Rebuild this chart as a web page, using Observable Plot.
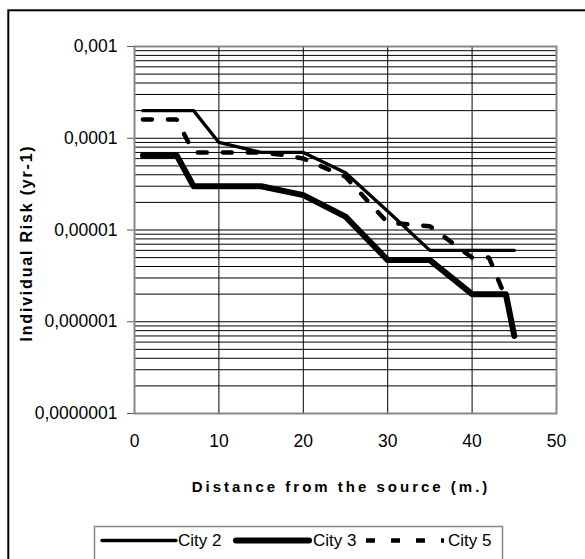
<!DOCTYPE html>
<html>
<head>
<meta charset="utf-8">
<script src="https://cdn.jsdelivr.net/npm/d3@7"></script>
<script src="https://cdn.jsdelivr.net/npm/@observablehq/plot@0.6"></script>
<style>
  html, body { margin: 0; padding: 0; background: #fff; }
  #chart { width: 585px; height: 559px; overflow: hidden; }
</style>
</head>
<body>
<div id="chart"></div>
<script>
// ---- data ----
const seriesNames = ["City 2", "City 3", "City 5"];

const city2Distance = [1, 7, 10, 15, 20, 25, 30, 35, 45];
const city2Risk     = [2e-4, 2e-4, 9e-5, 7e-5, 7e-5, 4.2e-5, 1.6e-5, 6e-6, 6e-6];

const city3Distance = [1, 5, 7, 15, 20, 25, 30, 35, 40, 44, 45];
const city3Risk     = [6.5e-5, 6.5e-5, 3e-5, 3e-5, 2.4e-5, 1.4e-5, 4.7e-6, 4.7e-6, 2e-6, 2e-6, 7e-7];

const city5Distance = [1, 5, 7, 15, 18, 20, 25, 30, 35, 40, 42, 44];
const city5Risk     = [1.6e-4, 1.6e-4, 7e-5, 7e-5, 6.5e-5, 6e-5, 3.8e-5, 1.2e-5, 1.1e-5, 5e-6, 5e-6, 1.8e-6];

const xTicks = [0, 10, 20, 30, 40, 50];
const yMajorTicks = [1e-3, 1e-4, 1e-5, 1e-6, 1e-7];
const yTickLabels = ["0,001", "0,0001", "0,00001", "0,000001", "0,0000001"];
const xTitle = "Distance from the source (m.)";
const yTitle = "Individual Risk (yr-1)";

// ---- build tables ----
function toRows(xs, ys, name) { return xs.map((x, i) => ({ x, y: ys[i], name })); }
const city2 = toRows(city2Distance, city2Risk, seriesNames[0]);
const city3 = toRows(city3Distance, city3Risk, seriesNames[1]);
const city5 = toRows(city5Distance, city5Risk, seriesNames[2]);

// minor + major log gridlines
const yGrid = [];
for (let e = -7; e <= -4; e++) for (let m = 1; m <= 9; m++) yGrid.push(+(m * Math.pow(10, e)).toPrecision(3));
yGrid.push(1e-3);
const xGrid = xTicks.slice(1, -1);

const labelFor = v => yTickLabels[yMajorTicks.findIndex(t => Math.abs(t - v) / t < 1e-6)];

const styles = [
  { width: 3.3, dash: null, cap: "round" },
  { width: 6, dash: null, cap: "round" },
  { width: 4.5, dash: "9,16", cap: "butt" }
];

const chart = Plot.plot({
  width: 585,
  height: 559,
  marginLeft: 134,
  marginRight: 29,
  marginTop: 46,
  marginBottom: 146,
  style: { fontFamily: "'Liberation Sans', Arial, sans-serif", fontSize: "17.5px", color: "#000", background: "#fff", overflow: "visible" },
  x: { domain: [0, 50] },
  y: { type: "log", domain: [1e-7, 1e-3] },
  marks: [
    Plot.ruleY(yGrid, { stroke: "#000", strokeWidth: 1 }),
    Plot.ruleX(xGrid, { stroke: "#000", strokeWidth: 1 }),
    Plot.axisY({ ticks: yMajorTicks, tickFormat: labelFor, tickSize: 7, tickPadding: 10, label: null, stroke: "#555", fill: "#000", fontSize: 17.5 }),
    Plot.axisX({ ticks: xTicks, tickSize: 0, tickPadding: 21, label: null, fill: "#000", fontSize: 17.5 }),
    Plot.line(city2, { x: "x", y: "y", stroke: "#000", strokeWidth: styles[0].width, strokeLinejoin: "round", strokeLinecap: "round" }),
    Plot.line(city3, { x: "x", y: "y", stroke: "#000", strokeWidth: styles[1].width, strokeLinejoin: "round", strokeLinecap: "round" }),
    Plot.line(city5, { x: "x", y: "y", stroke: "#000", strokeWidth: styles[2].width, strokeDasharray: styles[2].dash, strokeLinejoin: "miter" }),
    Plot.frame({ stroke: "#888", strokeWidth: 2 })
  ]
});

document.getElementById("chart").appendChild(chart);

// ---- titles, legend, outer border ----
const svg = d3.select(chart);

svg.append("text")
  .attr("x", 341).attr("y", 486)
  .attr("text-anchor", "middle").attr("dominant-baseline", "central")
  .style("font-size", "15px").style("font-weight", "bold").style("letter-spacing", "3px")
  .attr("fill", "#000")
  .text(xTitle);

svg.append("text")
  .attr("transform", "translate(26,243) rotate(-90)")
  .attr("text-anchor", "middle").attr("dominant-baseline", "central")
  .style("font-size", "16px").style("font-weight", "bold").style("letter-spacing", "1.8px")
  .attr("fill", "#000")
  .text(yTitle);

// legend
const lg = svg.append("g");
lg.append("rect").attr("x", 94.5).attr("y", 526.5).attr("width", 408).attr("height", 60)
  .attr("fill", "#fff").attr("stroke", "#888").attr("stroke-width", 1.5);
const legendItems = [
  { x0: 102, x1: 176, tx: 178 },
  { x0: 236, x1: 309, tx: 313 },
  { x0: 366, x1: 444, tx: 448 }
];
legendItems.forEach((it, i) => {
  const s = styles[i];
  lg.append("line").attr("x1", it.x0).attr("x2", it.x1).attr("y1", 540.5).attr("y2", 540.5)
    .attr("stroke", "#000").attr("stroke-width", s.width)
    .attr("stroke-linecap", s.cap)
    .attr("stroke-dasharray", s.dash);
  lg.append("text").attr("x", it.tx).attr("y", 540.5)
    .attr("text-anchor", "start")
    .attr("dominant-baseline", "central").attr("fill", "#000")
    .style("font-size", "17px")
    .text(seriesNames[i]);
});

// outer chart border (cropped at right/bottom)
svg.append("rect").attr("x", 8.3).attr("y", 10.3).attr("width", 620).attr("height", 620)
  .attr("fill", "none").attr("stroke", "#000").attr("stroke-width", 2);
</script>
</body>
</html>
